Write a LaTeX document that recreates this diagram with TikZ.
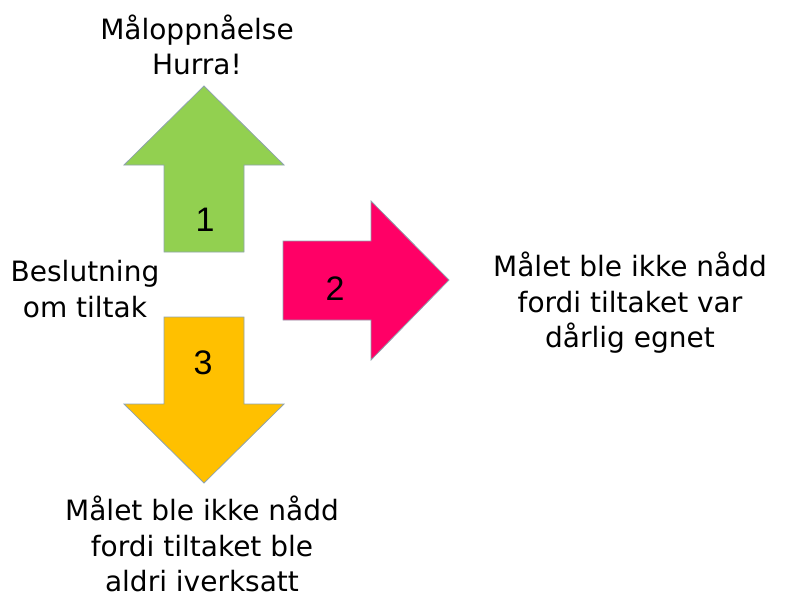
\documentclass[tikz,border=0pt]{standalone}
\usepackage{fontspec}
\setmainfont{DejaVu Sans}
\newfontfamily\numfont{Liberation Sans}
\usepackage{xcolor}
\definecolor{goalgreen}{HTML}{92D050}
\definecolor{badpink}{HTML}{FF0066}
\definecolor{latorange}{HTML}{FFC000}
\definecolor{rim}{HTML}{8FA3AE}
\usetikzlibrary{positioning}

\begin{document}
\begin{tikzpicture}[x=1pt,y=-1pt,line width=0.8pt,
    txt/.style={align=center,font=\fontsize{28}{35.5}\selectfont},
    num/.style={font=\numfont\fontsize{34}{40}\selectfont},
    block/.style={draw=rim,line join=miter}]
  \useasboundingbox (0,0) rectangle (788,598);
  % arrow 1, up
  \draw[block,fill=goalgreen] (204,86) -- (284,165) -- (244,165) -- (244,252)
      -- (164,252) -- (164,165) -- (124,165) -- cycle;
  % arrow 2, right
  \draw[block,fill=badpink] (449,280) -- (371,360) -- (371,320) -- (283,320)
      -- (283,241) -- (371,241) -- (371,201) -- cycle;
  % arrow 3, down
  \draw[block,fill=latorange] (204,483) -- (124,404) -- (164,404) -- (164,317)
      -- (244,317) -- (244,404) -- (284,404) -- cycle;
  \node[num](one) at (205,220) {1};
  \node[num](two) at (335,289) {2};
  \node[num](three) at (203,363) {3};
  \node[txt](goal) at (197,45) {Måloppnåelse\\Hurra!};
  \node[txt](start) at (85,289) {Beslutning\\om tiltak};
  \node[txt](unfit) at (630,303) {Målet ble ikke nådd\\fordi tiltaket var\\dårlig egnet};
  \node[txt](never) at (202,544) {Målet ble ikke nådd\\fordi tiltaket ble\\aldri iverksatt};
\end{tikzpicture}
\end{document}
